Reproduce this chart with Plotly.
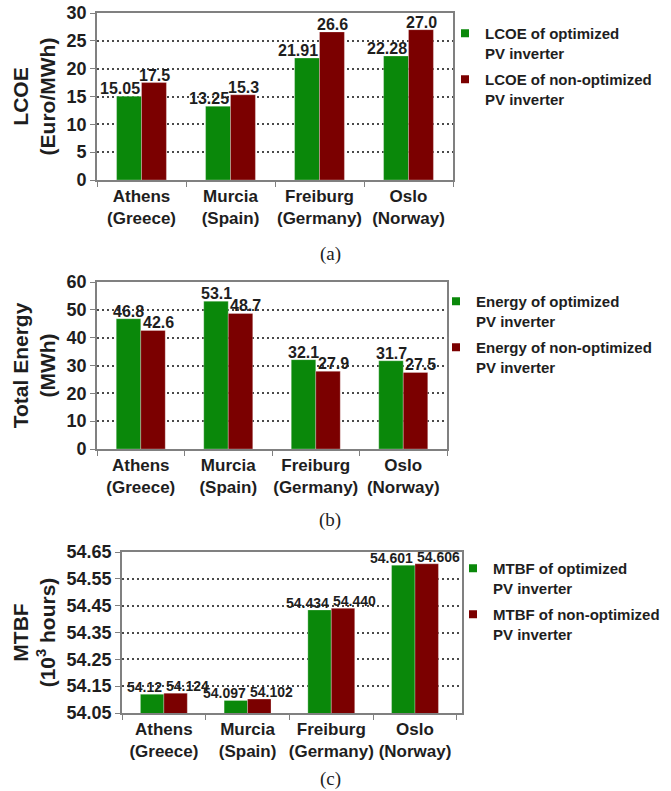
import plotly.graph_objects as go

W, H = 671, 791

# ---------------- data ----------------
cities = ["Athens", "Murcia", "Freiburg", "Oslo"]
countries = ["Greece", "Spain", "Germany", "Norway"]
categories = [f"{c}<br>({k})" for c, k in zip(cities, countries)]

lcoe_opt = [15.05, 13.25, 21.91, 22.28]
lcoe_non = [17.5, 15.3, 26.6, 27.0]
energy_opt = [46.8, 53.1, 32.1, 31.7]
energy_non = [42.6, 48.7, 27.9, 27.5]
mtbf_opt = [54.12, 54.097, 54.434, 54.601]
mtbf_non = [54.124, 54.102, 54.440, 54.606]

lcoe_opt_lbl = [f"{v:.2f}" for v in lcoe_opt]
lcoe_non_lbl = [f"{v:.1f}" for v in lcoe_non]
energy_opt_lbl = [f"{v:.1f}" for v in energy_opt]
energy_non_lbl = [f"{v:.1f}" for v in energy_non]
mtbf_opt_lbl = [str(v) for v in mtbf_opt]
mtbf_non_lbl = [f"{v:.3f}" for v in mtbf_non]

lcoe_ticks = [0, 5, 10, 15, 20, 25, 30]
energy_ticks = [0, 10, 20, 30, 40, 50, 60]
mtbf_ticks = [54.05, 54.15, 54.25, 54.35, 54.45, 54.55, 54.65]

# ---------------- style ----------------
GREEN = "#0a880a"
RED = "#7b0000"
FONT = "Liberation Sans, Arial, sans-serif"
TXT = "#1e1e1e"
AXC = "#808080"


def px_x(p):
    return p / W


def px_y(p):
    return 1 - p / H


panels = [
    dict(key="", x=(97, 453), y=(13, 180), opt=lcoe_opt, non=lcoe_non,
         optl=lcoe_opt_lbl, nonl=lcoe_non_lbl, ticks=lcoe_ticks, fmt="d",
         title="<b>LCOE</b><br><b>(Euro/MWh)</b>",
         names=["LCOE of optimized<br>PV inverter", "LCOE of non-optimized<br>PV inverter"],
         leg=(657, 17), lfs=16, ganchor=("right", 0), ranchor=("center", 13),
         cap="(a)", capy=254),
    dict(key="2", x=(97, 447), y=(282, 449), opt=energy_opt, non=energy_non,
         optl=energy_opt_lbl, nonl=energy_non_lbl, ticks=energy_ticks, fmt="d",
         title="<b>Total Energy</b><br><b>(MWh)</b>",
         names=["Energy of optimized<br>PV inverter", "Energy of non-optimized<br>PV inverter"],
         leg=(657, 285), lfs=16, ganchor=("center", -12), ranchor=("left", 0),
         cap="(b)", capy=520),
    dict(key="3", x=(122, 462), y=(552, 713), opt=mtbf_opt, non=mtbf_non,
         optl=mtbf_opt_lbl, nonl=mtbf_non_lbl, ticks=mtbf_ticks, fmt=".2f",
         title="<b>MTBF</b><br><b>(10<sup>3</sup> hours)</b>",
         names=["MTBF of optimized<br>PV inverter", "MTBF of non-optimized<br>PV inverter"],
         leg=(665, 552), lfs=14, ganchor=("right", 0), ranchor=("left", 0),
         cap="(c)", capy=779),
]

fig = go.Figure()
annotations = []
layout = dict(
    width=W, height=H, margin=dict(l=0, r=0, t=0, b=0, autoexpand=False),
    paper_bgcolor="white", plot_bgcolor="white",
    barmode="group", bargap=0.44, bargroupgap=0,
    font=dict(family=FONT, color=TXT),
)

for p in panels:
    k = p["key"]
    xa, ya = "x" + k, "y" + k
    legname = "legend" + k
    for i, (vals, col, name) in enumerate(((p["opt"], GREEN, p["names"][0]),
                                           (p["non"], RED, p["names"][1]))):
        fig.add_trace(go.Bar(
            x=categories, y=vals, xaxis=xa, yaxis=ya, name=name,
            marker=dict(color=col, line=dict(color="rgba(255,255,255,0.35)", width=0.8)),
            showlegend=False,
        ))
        # legend entry with a small square icon
        fig.add_trace(go.Scatter(
            x=[None], y=[None], xaxis=xa, yaxis=ya, mode="markers", name=name,
            marker=dict(symbol="square", size=8, color=col), legend=legname,
            legendgroup=f"g{k}{i}",
        ))
    # value labels
    for vals, lbls, (anc, sh) in ((p["opt"], p["optl"], p["ganchor"]),
                                  (p["non"], p["nonl"], p["ranchor"])):
        for c, v, t in zip(categories, vals, lbls):
            annotations.append(dict(
                x=c, y=v, xref=xa, yref=ya, text=f"<b>{t}</b>", showarrow=False,
                xanchor=anc, yanchor="bottom", xshift=sh, yshift=-3,
                font=dict(size=p["lfs"], color=TXT, family=FONT),
            ))
    # caption
    annotations.append(dict(
        x=px_x(330), y=px_y(p["capy"]), xref="paper", yref="paper", text=p["cap"],
        showarrow=False, xanchor="center", yanchor="middle",
        font=dict(family="Liberation Serif, Times New Roman, serif", size=19, color="#222"),
    ))
    layout["xaxis" + k] = dict(
        domain=[px_x(p["x"][0]), px_x(p["x"][1])], anchor=ya, automargin=False,
        type="category", showline=True, linecolor=AXC, linewidth=1.6, mirror=True,
        ticks="outside", tickson="boundaries", ticklen=5, tickcolor=AXC, tickwidth=1.4,
        tickangle=0,
        tickfont=dict(size=17, color=TXT, family=FONT, weight="bold"),
        showgrid=False,
    )
    layout["yaxis" + k] = dict(
        domain=[px_y(p["y"][1]), px_y(p["y"][0])], anchor=xa, automargin=False,
        range=[p["ticks"][0], p["ticks"][-1]], tickvals=p["ticks"], tickformat=p["fmt"],
        showline=True, linecolor=AXC, linewidth=1.6, mirror=True,
        ticks="outside", ticklen=5, tickcolor=AXC, tickwidth=1.4,
        tickfont=dict(size=18, color=TXT, family=FONT, weight="bold"),
        showgrid=True, gridcolor="#4a4a4a", gridwidth=1.6, griddash="2px,3px",
        zeroline=False,
        title=dict(text=p["title"], font=dict(size=21, color=TXT, family=FONT), standoff=5),
    )
    layout[legname] = dict(
        x=px_x(p["leg"][0]), y=px_y(p["leg"][1]), xanchor="right", yanchor="top",
        bgcolor="rgba(0,0,0,0)", valign="top", traceorder="grouped", tracegroupgap=4,
        font=dict(size=15, color=TXT, family=FONT, weight="bold"),
    )

layout["annotations"] = annotations
fig.update_layout(**layout)
fig.write_html("out.html", config={"displayModeBar": False},
               post_script="document.body.style.margin='0px';")
